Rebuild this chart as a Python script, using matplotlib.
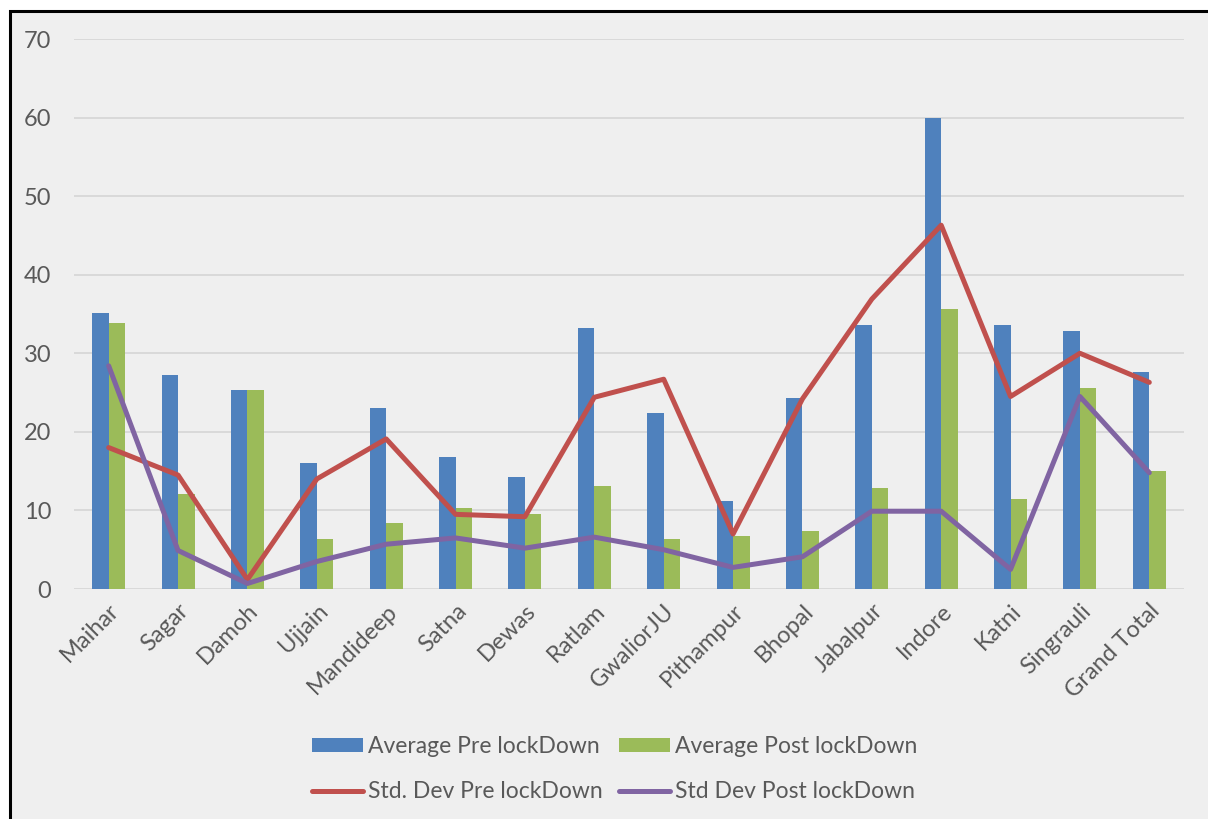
import matplotlib
matplotlib.use("Agg")
import matplotlib.pyplot as plt
import numpy as np
from matplotlib.patches import Rectangle

categories = ["Maihar", "Sagar", "Damoh", "Ujjain", "Mandideep", "Satna", "Dewas",
              "Ratlam", "GwaliorJU", "Pithampur", "Bhopal", "Jabalpur", "Indore",
              "Katni", "Singrauli", "Grand Total"]
avg_pre = [35.1, 27.2, 25.3, 16.0, 23.1, 16.8, 14.2, 33.2, 22.4, 11.2, 24.3, 33.6, 60.0, 33.6, 32.8, 27.6]
avg_post = [33.9, 12.1, 25.3, 6.4, 8.4, 10.3, 9.6, 13.1, 6.4, 6.7, 7.4, 12.9, 35.6, 11.4, 25.6, 15.0]
std_pre = [18.0, 14.5, 1.2, 14.0, 19.1, 9.5, 9.2, 24.4, 26.7, 7.0, 24.2, 36.9, 46.3, 24.5, 30.0, 26.3]
std_post = [28.4, 4.9, 0.7, 3.5, 5.7, 6.5, 5.2, 6.6, 5.0, 2.75, 4.1, 9.9, 9.9, 2.5, 24.5, 14.8]
yticks = [0, 10, 20, 30, 40, 50, 60, 70]

W, H = 1208, 819
fig = plt.figure(figsize=(W / 100, H / 100), dpi=100, facecolor="white")
plt.rcParams['font.family'] = ['Lato', 'DejaVu Sans']
TXT = "#595959"
BG = "#EFEFEF"

# framed background
fig.patches.append(Rectangle((9.5 / W, -0.2), 1.2, 1 - 10.5 / H + 0.2,
                             transform=fig.transFigure, facecolor=BG,
                             edgecolor="black", linewidth=2.2, zorder=-5))

ax = fig.add_axes([74 / W, 1 - 589 / H, (1184 - 74) / W, (589 - 39) / H])
ax.set_zorder(2)
ax.patch.set_alpha(0)

x = np.arange(len(categories))
bw = 0.238
c_blue, c_green, c_red, c_purple = "#4F81BD", "#9BBB59", "#C0504D", "#8064A2"
b1 = ax.bar(x - bw / 2, avg_pre, bw, color=c_blue, zorder=2, label="Average Pre lockDown")
b2 = ax.bar(x + bw / 2, avg_post, bw, color=c_green, zorder=2, label="Average Post lockDown")
l1, = ax.plot(x, std_pre, color=c_red, lw=3.6, zorder=3, solid_capstyle="round",
              solid_joinstyle="round", label="Std. Dev Pre lockDown")
l2, = ax.plot(x, std_post, color=c_purple, lw=3.6, zorder=3, solid_capstyle="round",
              solid_joinstyle="round", label="Std Dev Post lockDown")

ax.set_xlim(-0.5, len(categories) - 0.5)
ax.set_ylim(0, 70)
ax.set_yticks(yticks)
ax.set_yticklabels([str(v) for v in yticks])
ax.yaxis.grid(True, color="#D9D9D9", linewidth=1.4, zorder=0)
ax.set_axisbelow(True)
for s in ax.spines.values():
    s.set_visible(False)
ax.tick_params(axis="y", length=0, pad=16.5, labelsize=17, labelcolor=TXT)
ax.tick_params(axis="x", length=0, pad=8, labelsize=17, labelcolor=TXT)
ax.set_xticks(x)
ax.set_xticklabels(categories, rotation=45, ha="right", va="top", rotation_mode="anchor")

leg = fig.legend([b1, l1, b2, l2],
                 ["Average Pre lockDown", "Std. Dev Pre lockDown",
                  "Average Post lockDown", "Std Dev Post lockDown"],
                 ncol=2, loc="center", bbox_to_anchor=(615 / W, 1 - 769 / H),
                 frameon=False, fontsize=16.5, labelcolor=TXT,
                 handlelength=2.2, handleheight=0.55, handletextpad=0.25,
                 columnspacing=0.7, labelspacing=1.05)

fig.savefig("out.png", dpi=100, facecolor="white")
